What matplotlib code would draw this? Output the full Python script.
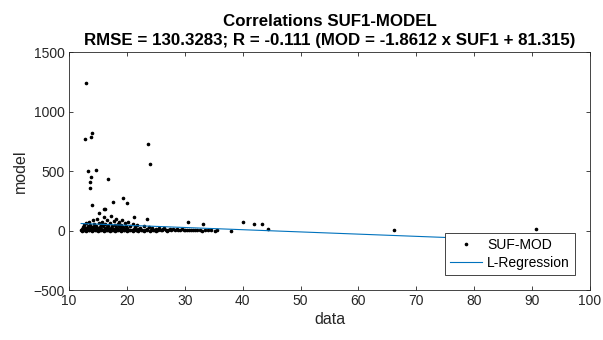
import matplotlib
matplotlib.use('Agg')
import matplotlib.pyplot as plt
import numpy as np

plt.rcParams['font.family'] = ['Liberation Sans', 'DejaVu Sans']

# scattered outliers
outlier_x = [12.9, 12.8, 13.8, 14.0, 23.7, 24.0, 13.3, 14.7, 13.8, 13.7, 13.6, 16.8,
             13.9, 17.6, 19.4, 20.0, 16.2, 16.0, 15.1, 21.3, 23.4, 30.5, 33.1, 40.1,
             41.9, 43.3, 44.4, 38.0, 66.2, 90.7, 35.2, 35.5]
outlier_y = [1237, 769, 783, 817, 724, 559, 497, 511, 447, 410, 360, 435,
             212, 242, 273, 234, 183, 178, 144, 113, 99, 71, 52, 71,
             57, 57, 10, 0, 4, 12, 0, 2]

# dense cluster near zero
cluster_x = [12.1, 12.3, 12.4, 12.5, 12.6, 12.7, 12.8, 12.9, 13.0, 13.1, 13.2, 13.3, 13.4, 13.5,
             13.6, 13.7, 13.8, 13.9, 14.0, 14.1, 14.2, 14.3, 14.4, 14.5, 14.6, 14.7, 14.8, 14.9,
             15.0, 15.1, 15.2, 15.3, 15.4, 15.5, 15.6, 15.7, 15.8, 15.9, 16.0, 16.1, 16.2, 16.3,
             16.4, 16.5, 16.6, 16.7, 16.8, 16.9, 17.0, 17.1, 17.2, 17.3, 17.4, 17.5, 17.6, 17.7,
             17.8, 17.9, 18.0, 18.1, 18.2, 18.3, 18.4, 18.5, 18.6, 18.7, 18.8, 18.9, 19.0, 19.1,
             19.2, 19.3, 19.4, 19.5, 19.6, 19.7, 19.8, 19.9, 20.0, 20.2, 20.4, 20.6, 20.8, 21.0,
             21.2, 21.4, 21.6, 21.8, 22.0, 22.3, 22.6, 22.9, 23.2, 23.5, 23.8, 24.1, 24.4, 24.7,
             25.0, 25.3, 25.6, 25.9, 26.2, 26.5, 26.8, 27.1, 27.4, 27.7, 28.0, 28.3, 28.6, 28.9,
             29.2, 29.5, 29.8, 30.1, 30.4, 30.7, 31.0, 31.4, 31.8, 32.2, 32.6, 33.0, 33.5, 34.0,
             34.6, 12.2, 12.6, 13.0, 13.5, 14.0, 14.5, 15.0, 15.5, 16.0, 16.5, 17.0, 17.5, 18.0,
             18.5, 19.0, 19.5, 20.0, 20.5, 21.0, 21.5, 22.0, 22.5, 23.0, 23.5, 24.0, 24.5, 25.0,
             26.0, 27.0]
cluster_y = [5, 12, 30, 2, 45, 18, 8, 60, 25, 3, 38, 14, 70, 6,
             22, 50, 1, 33, 10, 85, 4, 27, 55, 15, 2, 40, 9, 95,
             20, 5, 62, 30, 1, 48, 12, 75, 7, 35, 3, 110, 18, 52,
             6, 28, 90, 2, 42, 14, 65, 4, 24, 120, 9, 36, 1, 80,
             16, 45, 5, 100, 26, 3, 58, 11, 34, 70, 2, 20, 48, 7,
             85, 15, 30, 4, 60, 12, 40, 1, 25, 75, 8, 35, 3, 55,
             14, 28, 5, 45, 10, 22, 2, 38, 6, 15, 30, 4, 20, 1,
             12, 8, 25, 3, 10, 18, 2, 6, 14, 1, 9, 4, 16, 2,
             7, 11, 3, 5, 1, 8, 2, 6, 1, 4, 2, 0, 3, 1,
             2, 0, 1, 0, 2, 0, 1, 0, 2, 0, 1, 0, 2, 0,
             1, 0, 2, 0, 1, 0, 2, 0, 1, 0, 2, 0, 1, 0,
             1, 0]

slope = -1.8612
intercept = 81.315

x = np.array(outlier_x + cluster_x)
y = np.array(outlier_y + cluster_y)

fig = plt.figure(figsize=(6.03, 3.4), dpi=100)
ax = fig.add_axes([0.1144, 0.147, 0.864, 0.7])

ax.plot(x, y, '.', color='black', markersize=3.2, label='SUF-MOD')
xl = np.array([x.min(), x.max()])
ax.plot(xl, slope * xl + intercept, '-', color='#0072BD', linewidth=0.8, label='L-Regression')

ax.set_xlim(10, 100)
ax.set_ylim(-500, 1500)
ax.set_xticks(np.arange(10, 101, 10))
ax.set_yticks([-500, 0, 500, 1000, 1500])
ax.tick_params(direction='in', top=True, right=True, labelsize=10, colors='#262626',
               length=3, width=0.6, pad=3)
for s in ax.spines.values():
    s.set_color('#262626')
    s.set_linewidth(0.6)

ax.set_xlabel('data', fontsize=11.5, color='#262626', labelpad=3)
ax.set_ylabel('model', fontsize=11.5, color='#262626', labelpad=4)
ax.set_title('Correlations SUF1-MODEL\nRMSE = 130.3283; R = -0.111 (MOD = -1.8612 x SUF1 + 81.315)',
             fontsize=12.2, fontweight='bold', linespacing=1.38, pad=5)

leg = ax.legend(loc='lower right', bbox_to_anchor=(0.971, 0.063), borderaxespad=0,
                fontsize=10, fancybox=False, framealpha=1, edgecolor='#262626',
                handlelength=2.3, handletextpad=0.4, borderpad=0.35, labelspacing=0.3)
leg.get_frame().set_linewidth(0.6)

plt.savefig('out.png', dpi=100)
